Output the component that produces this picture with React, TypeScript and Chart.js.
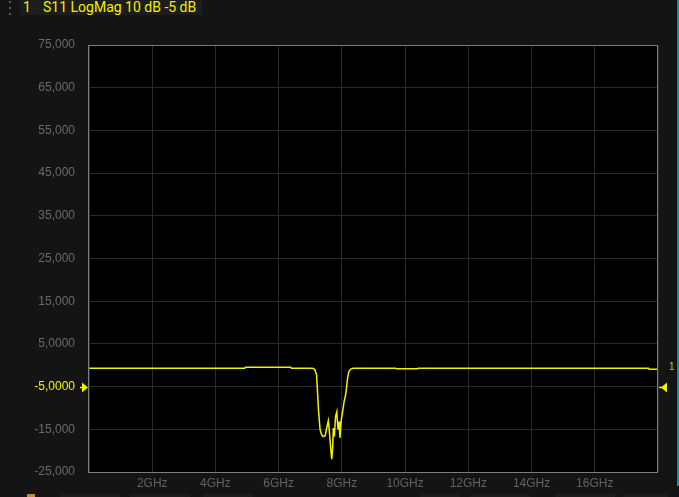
import React, { useEffect, useRef } from 'react';
import { Chart, registerables } from 'chart.js';

Chart.register(...registerables);

// Frequency axis (GHz) and S11 log-magnitude (dB)
const freqGHz = [
  0.01, 2.0, 4.0, 4.93, 4.95, 6.38, 6.4, 7.0, 7.1, 7.15, 7.2, 7.26, 7.31, 7.36, 7.41, 7.47,
  7.52, 7.57, 7.6, 7.65, 7.68, 7.71, 7.73, 7.76, 7.8, 7.84, 7.85, 7.88, 7.91, 7.94,
  7.96, 7.99, 8.03, 8.07, 8.12, 8.15, 8.18, 8.22, 8.28, 8.36, 9.7, 9.72, 10.4, 10.42,
  14.0, 17.7, 17.72, 18.0,
];
const s11dB = [
  -0.7, -0.7, -0.7, -0.7, -0.45, -0.45, -0.7, -0.7, -0.75, -1.1, -2.3, -10.5, -15.1, -16.3, -16.7, -16.5,
  -14.7, -13.0, -15.1, -19.8, -22.0, -19.1, -14.7, -16.7, -12.0, -10.9, -12.3, -15.1, -13.2, -17.0,
  -14.4, -12.3, -10.5, -8.5, -6.9, -5.0, -3.0, -1.5, -0.9, -0.7, -0.7, -0.8, -0.8, -0.7,
  -0.7, -0.7, -0.95, -0.95,
];

const yTickValues = [75, 65, 55, 45, 35, 25, 15, 5, -5, -15, -25];
const yTickLabels = ['75,000', '65,000', '55,000', '45,000', '35,000', '25,000', '15,000', '5,0000', '-5,0000', '-15,000', '-25,000'];
const xTickValues = [2, 4, 6, 8, 10, 12, 14, 16];
const xTickLabels = ['2GHz', '4GHz', '6GHz', '8GHz', '10GHz', '12GHz', '14GHz', '16GHz'];
const refLevel = -5;
const traceNumber = '1';
const headerLabels = ['1', 'S11 LogMag 10 dB -5 dB'];

const YELLOW = '#f2f200';
const TICK_FONT = { family: "'Liberation Sans', Arial, sans-serif", size: 12 };

const framePlugin = {
  id: 'vnaFrame',
  beforeDraw(chart: any) {
    const { ctx, chartArea: a } = chart;
    ctx.save();
    ctx.fillStyle = '#000000';
    ctx.fillRect(a.left, a.top, a.right - a.left, a.bottom - a.top);
    ctx.restore();
  },
  afterDraw(chart: any) {
    const { ctx, chartArea: a } = chart;
    ctx.save();
    ctx.strokeStyle = '#7d7d7d';
    ctx.lineWidth = 1;
    ctx.strokeRect(Math.round(a.left) - 0.5, Math.round(a.top) + 0.5, Math.round(a.right - a.left), Math.round(a.bottom - a.top));
    const y = Math.round(chart.scales.y.getPixelForValue(refLevel)) + 0.5;
    ctx.fillStyle = YELLOW;
    ctx.strokeStyle = YELLOW;
    ctx.lineWidth = 1.5;
    // left reference marker (pointing right)
    ctx.beginPath();
    ctx.moveTo(a.left - 7, y - 5);
    ctx.lineTo(a.left - 1, y);
    ctx.lineTo(a.left - 7, y + 5);
    ctx.closePath();
    ctx.fill();
    ctx.beginPath();
    ctx.moveTo(a.left - 9, y);
    ctx.lineTo(a.left - 6, y);
    ctx.stroke();
    // right reference marker (pointing left)
    ctx.beginPath();
    ctx.moveTo(a.right + 9, y - 5);
    ctx.lineTo(a.right + 3, y);
    ctx.lineTo(a.right + 9, y + 5);
    ctx.closePath();
    ctx.fill();
    ctx.beginPath();
    ctx.moveTo(a.right + 1, y);
    ctx.lineTo(a.right + 4, y);
    ctx.stroke();
    // trace number label at trace end
    const lastY = chart.scales.y.getPixelForValue(s11dB[s11dB.length - 1]);
    ctx.fillStyle = '#c8c800';
    ctx.font = "10px 'Liberation Sans', Arial, sans-serif";
    ctx.textAlign = 'left';
    ctx.textBaseline = 'middle';
    ctx.fillText(traceNumber, a.right + 11, lastY - 2);
    ctx.restore();
  },
};

function VnaChart() {
  const ref = useRef<HTMLCanvasElement>(null);
  useEffect(() => {
    if (!ref.current) return;
    const chart = new Chart(ref.current, {
      type: 'line',
      data: {
        datasets: [
          {
            data: freqGHz.map((f, i) => ({ x: f, y: s11dB[i] })),
            borderColor: YELLOW,
            borderWidth: 1.5,
            pointRadius: 0,
            tension: 0,
            fill: false,
          },
        ],
      },
      options: {
        animation: false,
        responsive: false,
        maintainAspectRatio: false,
        layout: { padding: { left: 0, right: 21, top: 45, bottom: 0 } },
        plugins: { legend: { display: false }, tooltip: { enabled: false }, title: { display: false } },
        scales: {
          x: {
            type: 'linear',
            min: 0,
            max: 18,
            ticks: {
              stepSize: 2,
              autoSkip: false,
              maxRotation: 0,
              padding: 4,
              color: '#626262',
              font: TICK_FONT,
              callback: (v: any) => {
                const i = xTickValues.indexOf(Number(v));
                return i >= 0 ? xTickLabels[i] : '';
              },
            },
            grid: { color: '#2b2b2b', drawTicks: false, lineWidth: 1 },
            border: { display: false },
            afterFit: (s: any) => {
              s.height = 25;
            },
          },
          y: {
            min: -25,
            max: 75,
            ticks: {
              stepSize: 10,
              autoSkip: false,
              padding: 14,
              font: TICK_FONT,
              color: (c: any) => (c.tick && c.tick.value === refLevel ? YELLOW : '#6a6a6a'),
              callback: (v: any) => {
                const i = yTickValues.indexOf(Number(v));
                return i >= 0 ? yTickLabels[i] : '';
              },
            },
            grid: { color: '#2b2b2b', drawTicks: false, lineWidth: 1 },
            border: { display: false },
            afterFit: (s: any) => {
              s.width = 89;
            },
          },
        },
      } as any,
      plugins: [framePlugin],
    });
    return () => chart.destroy();
  }, []);
  return <canvas ref={ref} width={679} height={497} style={{ position: 'absolute', left: 0, top: 0 }} />;
}

export default function App() {
  return (
    <div
      style={{
        position: 'fixed',
        left: 0,
        top: 0,
        width: 679,
        height: 497,
        background: '#141414',
        overflow: 'hidden',
      }}
    >
      <VnaChart />
      {/* header */}
      <div style={{ position: 'absolute', left: 9, top: 1, width: 2, height: 14, display: 'flex', flexDirection: 'column', justifyContent: 'space-between' }}>
        {[0, 1, 2].map((k) => (
          <div key={k} style={{ width: 2, height: 2, background: '#555' }} />
        ))}
      </div>
      <div
        style={{
          position: 'absolute',
          left: 20,
          top: 0,
          height: 15,
          width: 182,
          background: '#1d1d1d',
          color: '#f0f000',
          fontFamily: "Roboto, 'Liberation Sans', Arial, sans-serif",
          fontSize: 14,
          lineHeight: '14px',
          whiteSpace: 'nowrap',
        }}
      >
        <span style={{ position: 'absolute', left: 3, top: 0 }}>{headerLabels[0]}</span>
        <span style={{ position: 'absolute', left: 23, top: 0 }}>{headerLabels[1]}</span>
      </div>
      {/* right edge accent */}
      <div style={{ position: 'absolute', left: 677, top: 0, width: 2, height: 486, background: '#009a9a' }} />
      {/* bottom strip */}
      <div style={{ position: 'absolute', left: 27, top: 494, width: 8, height: 3, background: '#c88a30' }} />
      {[ [60, 60], [130, 60], [203, 50], [420, 40], [470, 60], [555, 60], [623, 45] ].map(([l, w], k) => (
        <div key={k} style={{ position: 'absolute', left: l, top: 494, width: w, height: 3, background: '#1c1c1c' }} />
      ))}
    </div>
  );
}
